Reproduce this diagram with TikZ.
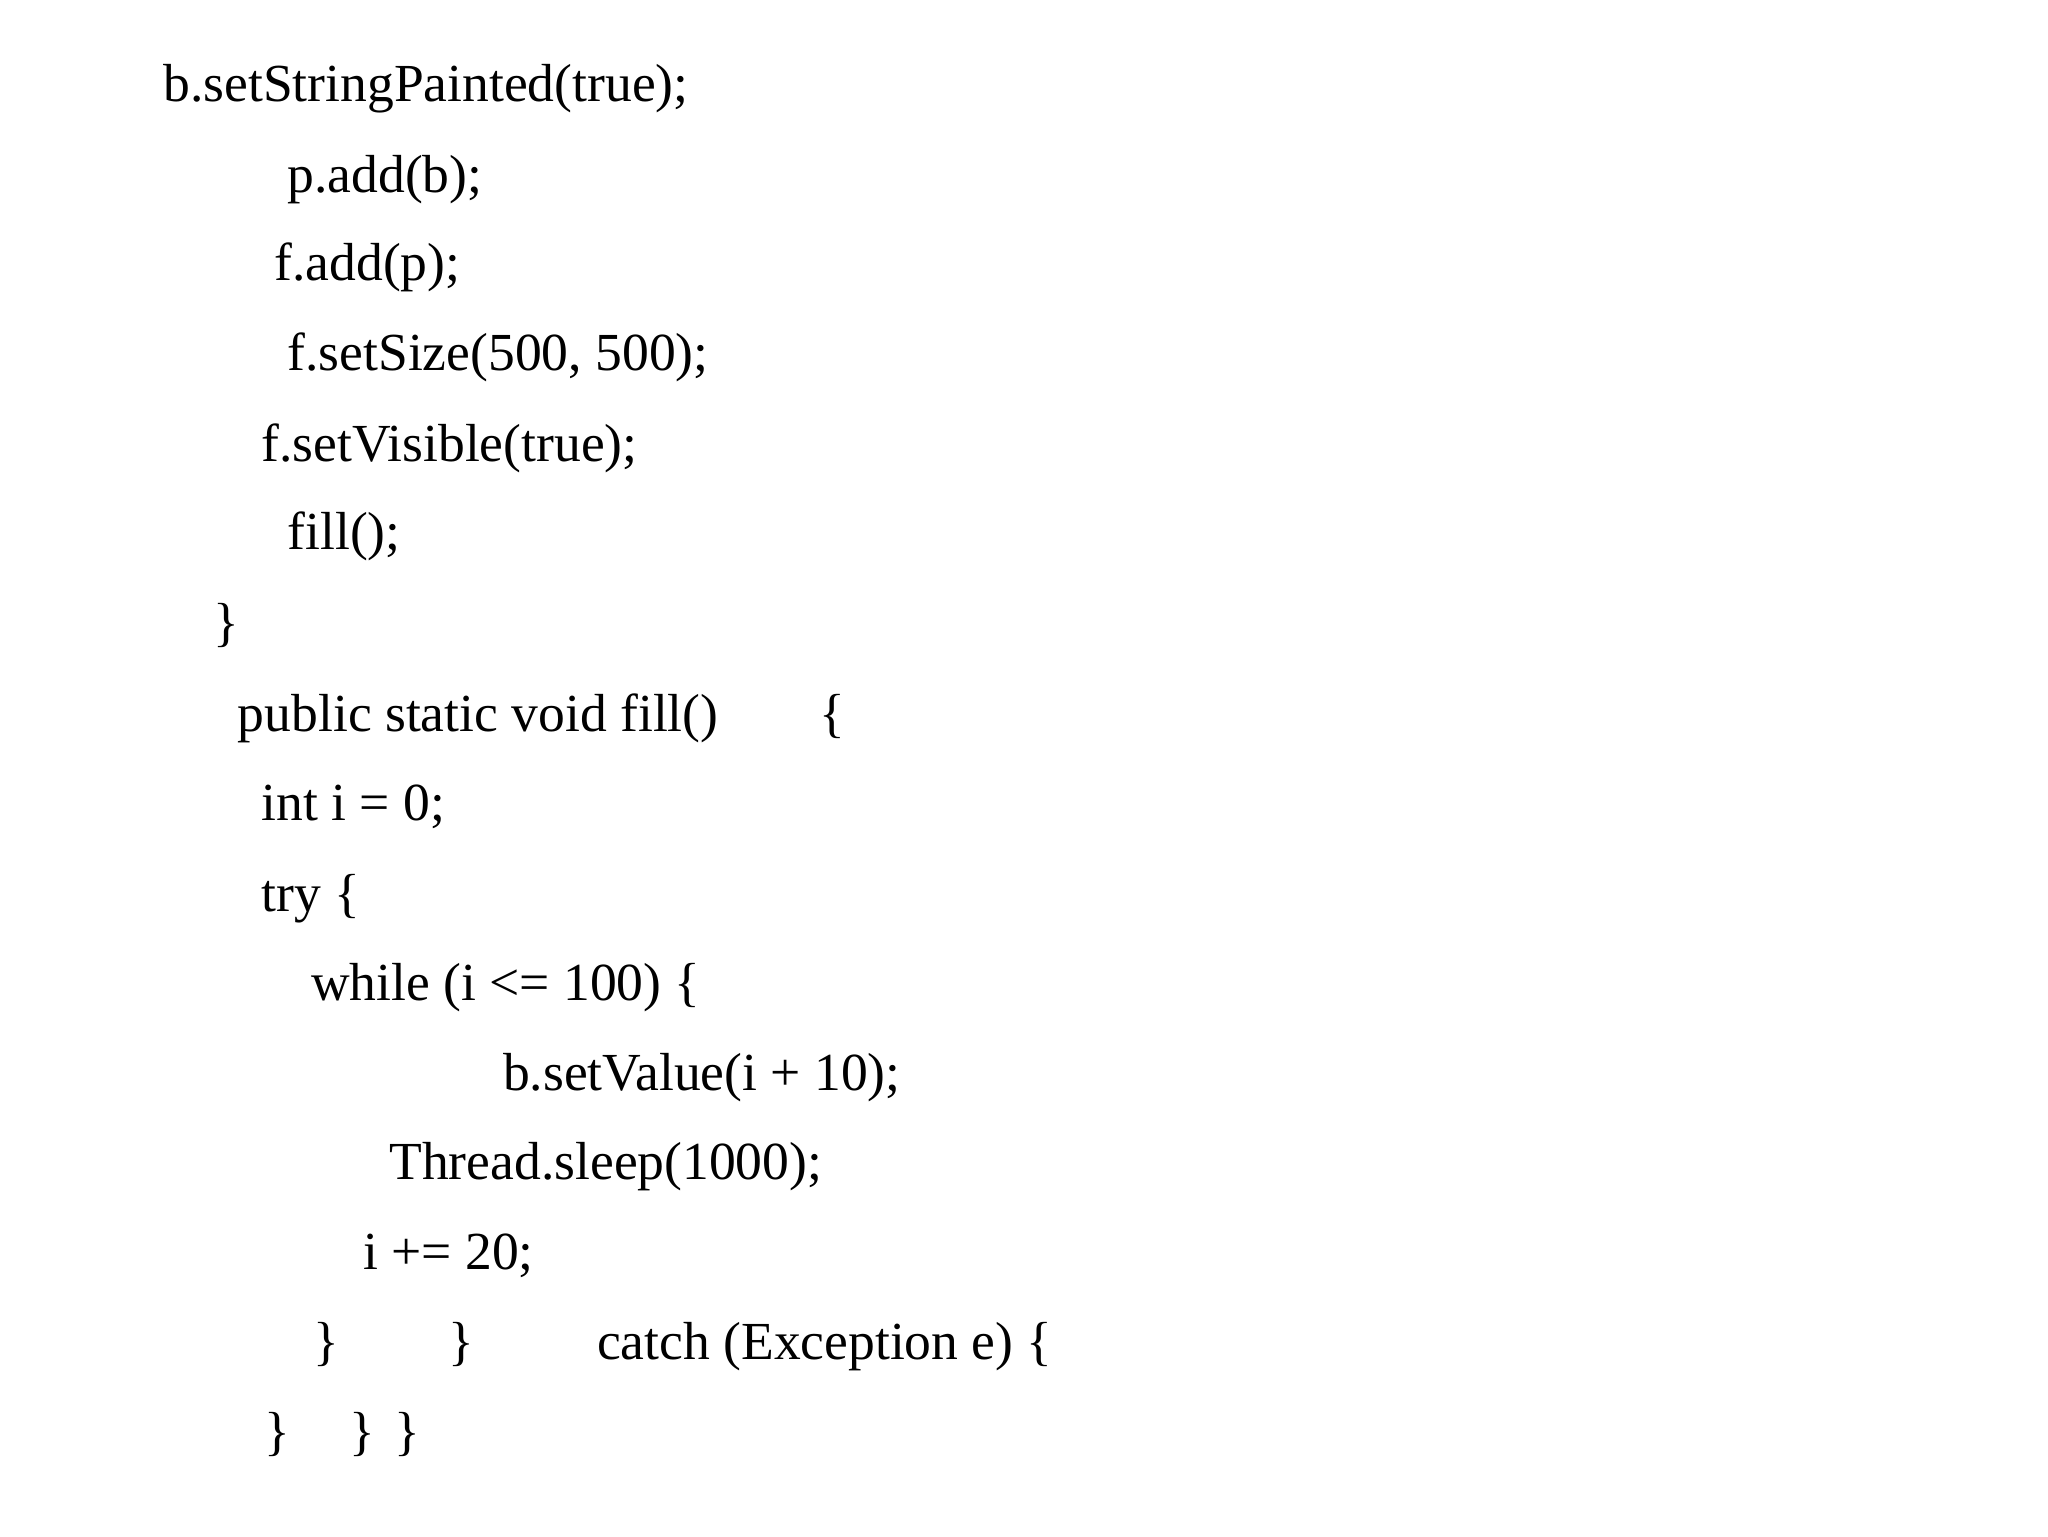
\documentclass[tikz,border=0pt]{standalone}
\usepackage{fontspec}
\setmainfont{Liberation Serif}
\begin{document}
\begin{tikzpicture}[x=1pt,y=-1pt,every node/.style={anchor=base west,inner sep=0pt,font=\fontsize{41}{48}\selectfont}]
\useasboundingbox (0,0) rectangle (1568,1176);
\node (l1) at (125,78) {b.setStringPainted(true);};
\node (l2) at (220,147) {p.add(b);};
\node (l3) at (210,215) {f.add(p);};
\node (l4) at (220,284) {f.setSize(500, 500);};
\node (l5) at (200,353) {f.setVisible(true);};
\node (l6) at (220,421) {fill();};
\node (l7) at (163,490) {\}};
\node (l8) at (182,560) {public static void fill()};
\node (l8b) at (627,560) {\{};
\node (l9) at (200,628) {int i = 0;};
\node (l10) at (200,698) {try \{};
\node (l11) at (238,766) {while (i <= 100) \{};
\node (l12) at (385,835) {b.setValue(i + 10);};
\node (l13) at (298,903) {Thread.sleep(1000);};
\node (l14) at (278,972) {i += 20;};
\node (l15a) at (240,1041) {\}};
\node (l15b) at (343,1041) {\}};
\node (l15c) at (457,1041) {catch (Exception e) \{};
\node (l16a) at (202,1110) {\}};
\node (l16b) at (267,1110) {\}};
\node (l16c) at (302,1110) {\}};
\end{tikzpicture}
\end{document}
